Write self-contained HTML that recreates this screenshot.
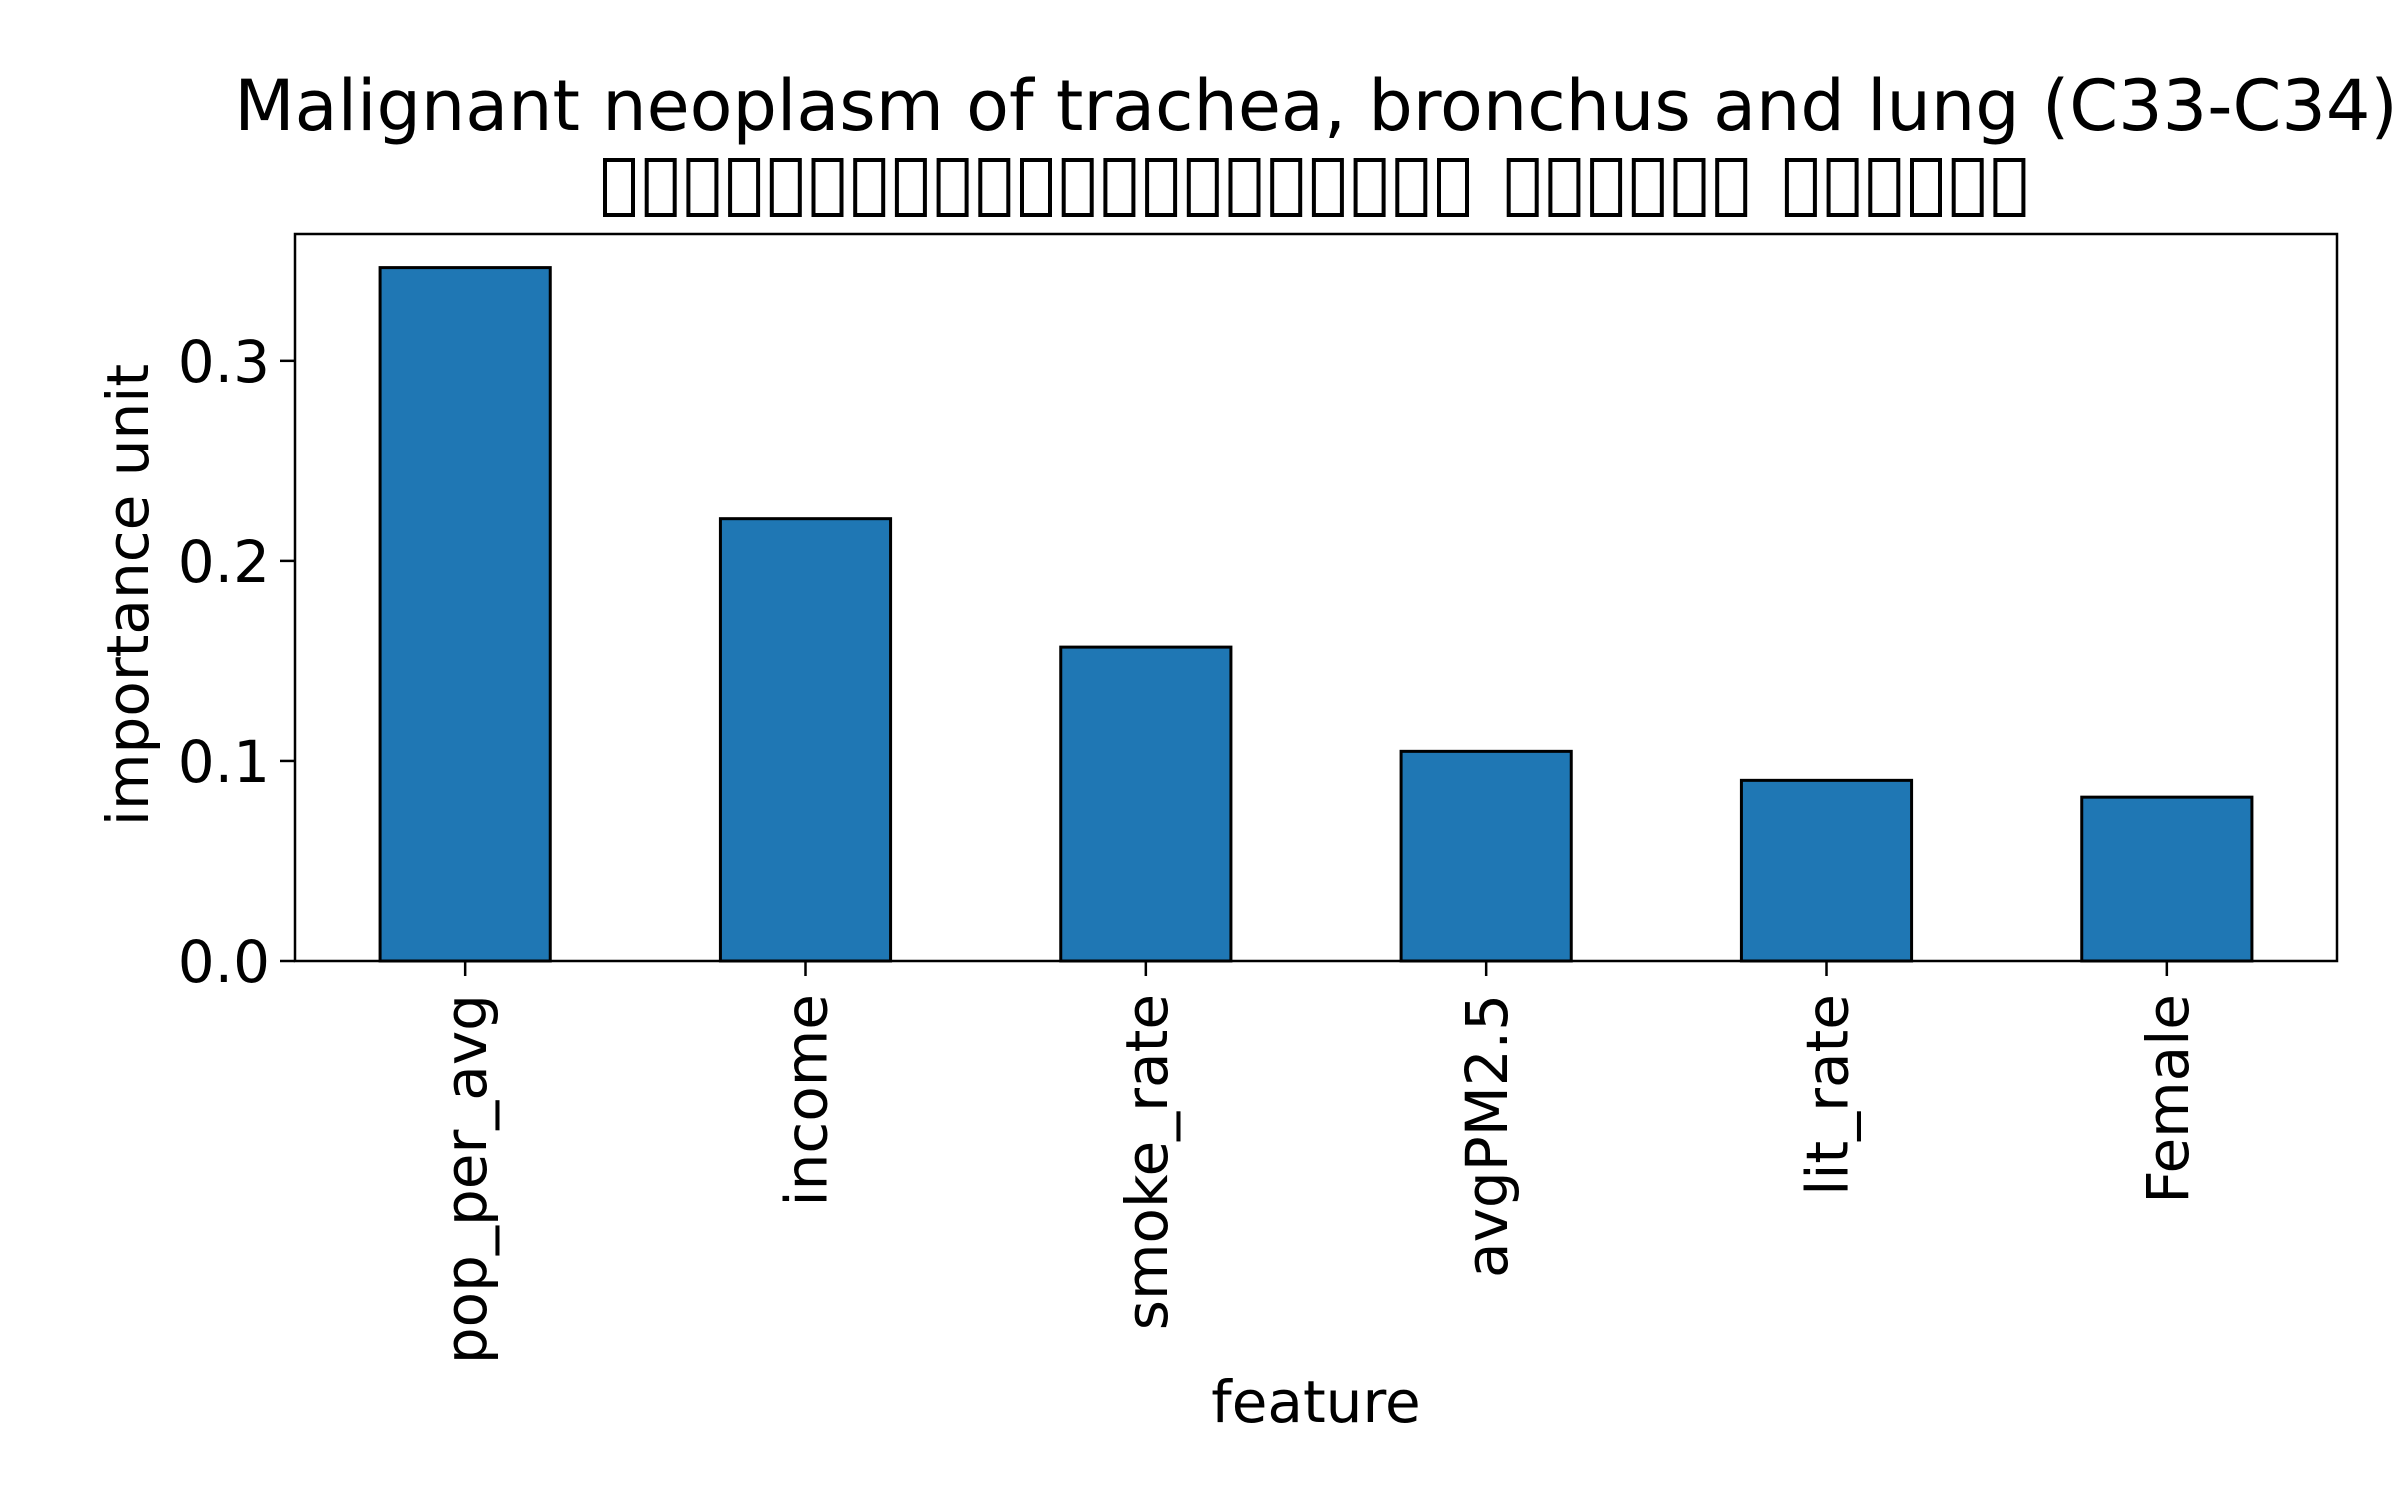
<!DOCTYPE html>
<html><head><meta charset="utf-8"><style>
html,body{margin:0;padding:0;background:#fff;}
svg{display:block;font-family:"Liberation Sans","DejaVu Sans",sans-serif;}
</style></head><body>
<svg id="chart" width="2400" height="1500" viewBox="0 0 2400 1500" xmlns="http://www.w3.org/2000/svg">
<rect width="2400" height="1500" fill="#fff"/>
<text x="1316" y="130" font-size="70" text-anchor="middle" font-family="DejaVu Sans, sans-serif">Malignant neoplasm of trachea, bronchus and lung (C33-C34)</text>
<g id="tofu"></g>
<g id="bars"></g>
<g id="axes"></g>
<text x="1316" y="1422" font-size="58" text-anchor="middle" font-family="DejaVu Sans, sans-serif">feature</text>
<text transform="translate(148,595) rotate(-90)" font-size="58" text-anchor="middle" font-family="DejaVu Sans, sans-serif">importance unit</text>
</svg>
<script>
const categories = ["pop_per_avg","income","smoke_rate","avgPM2.5","lit_rate","Female"];
const values = [0.3466,0.2211,0.1569,0.1048,0.0903,0.0819];
const yTicks = [0.0,0.1,0.2,0.3];
const yTickLabels = ["0.0","0.1","0.2","0.3"];

const NS="http://www.w3.org/2000/svg";
const L=295,R=2337,T=234,B=961,YMAX=0.3634;
const x=i=>L+(i+0.5)*(R-L)/categories.length;
const y=v=>B-v/YMAX*(B-T);
const bw=0.5*(R-L)/categories.length;
function mk(tag,attrs,parent){const e=document.createElementNS(NS,tag);for(const k in attrs)e.setAttribute(k,attrs[k]);parent.appendChild(e);return e;}

const tofu=document.getElementById('tofu');
const groups=[21,6,6];let cx=603;
groups.forEach((n,gi)=>{for(let k=0;k<n;k++){const r=mk('rect',{x:cx+2,y:160,width:28,height:55,fill:'none',stroke:'#000','stroke-width':4},tofu);


cx+=41.7;}cx+=28;});

const bars=document.getElementById('bars');
values.forEach((v,i)=>{const r=mk('rect',{x:x(i)-bw/2,y:y(v),width:bw,height:B-y(v),fill:'#1f77b4',stroke:'#000','stroke-width':3},bars);

});

const ax=document.getElementById('axes');
const frame=mk('rect',{x:L,y:T,width:R-L,height:B-T,fill:'none',stroke:'#000','stroke-width':2.5},ax);


yTicks.forEach((t,i)=>{const yy=y(t);
mk('line',{x1:L-15,x2:L,y1:yy,y2:yy,stroke:'#000','stroke-width':2.5},ax);
const tx=mk('text',{x:L-25,y:yy+21,'font-size':58,'text-anchor':'end','font-family':'DejaVu Sans, sans-serif'},ax);
tx.textContent=yTickLabels[i];

});
categories.forEach((c,i)=>{const xx=x(i);
mk('line',{x1:xx,x2:xx,y1:B,y2:B+15,stroke:'#000','stroke-width':2.5},ax);
const tx=mk('text',{transform:`translate(${xx+21},${B+33}) rotate(-90)`,'font-size':58,'text-anchor':'end','font-family':'DejaVu Sans, sans-serif'},ax);
tx.textContent=c;

});
</script>
</body></html>
